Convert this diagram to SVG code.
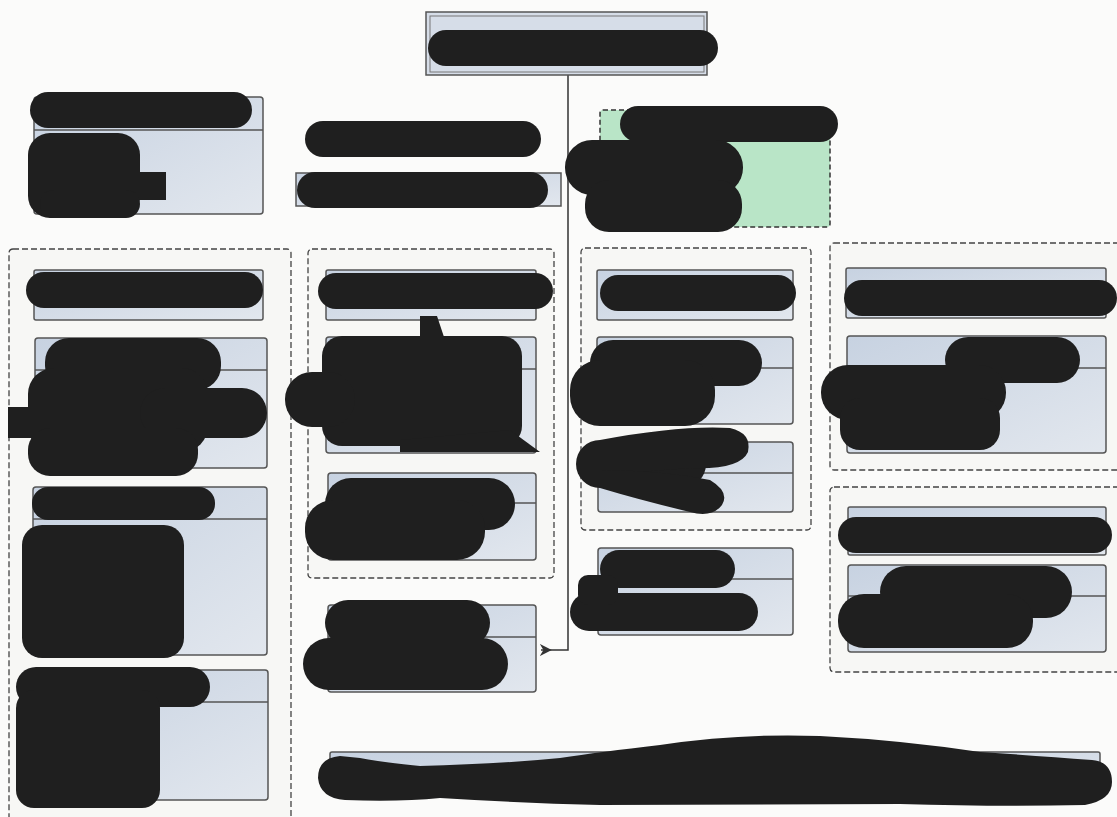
<svg xmlns="http://www.w3.org/2000/svg" width="1117" height="817" viewBox="0 0 1117 817">
<defs>
<linearGradient id="bg" x1="0" y1="0" x2="1" y2="1">
<stop offset="0" stop-color="#c7d2e1"/>
<stop offset="1" stop-color="#e2e7ee"/>
</linearGradient>
<marker id="arr" viewBox="0 0 10 10" refX="9" refY="5" markerWidth="8" markerHeight="8" orient="auto">
<path d="M10,0 L0,5 L10,10 L7,5 Z" fill="#333"/>
</marker>
<style>
.box{fill:url(#bg);stroke:#555;stroke-width:1.5}
.hl{stroke:#555;stroke-width:1.3}
.grp{fill:#f7f7f5;stroke:#444;stroke-width:1.3;stroke-dasharray:6 3}
.red{fill:#1f1f1f}
.conn{fill:none;stroke:#333;stroke-width:1.5}
</style>
</defs>
<rect width="1117" height="817" fill="#fbfbfa"/>

<g id="groups">
<rect class="grp" x="9" y="249" width="282" height="575" rx="4"/>
<rect class="grp" x="308" y="249" width="246" height="329" rx="4"/>
<rect class="grp" x="581" y="248" width="230" height="282" rx="4"/>
<rect class="grp" x="830" y="243" width="295" height="227" rx="4"/>
<rect class="grp" x="830" y="487" width="295" height="185" rx="4"/>
</g>

<g id="connectors">
<path class="conn" d="M568,75 V650 H541" marker-end="url(#arr)"/>
</g>

<g id="top">
<rect x="426" y="12" width="281" height="63" fill="#d6dde8" stroke="#555" stroke-width="1.5"/>
<rect x="430" y="16" width="274" height="56" fill="none" stroke="#777" stroke-width="1"/>
<rect class="red" x="428" y="30" width="290" height="36" rx="18"/>
</g>

<g id="nodeA">
<rect class="box" x="34" y="97" width="229" height="117" rx="3"/>
<line class="hl" x1="34" y1="130" x2="263" y2="130"/>
<rect class="red" x="30" y="92" width="222" height="36" rx="18"/>
<rect class="red" x="28" y="133" width="112" height="85" rx="22"/>
<rect class="red" x="100" y="172" width="66" height="28"/>
<rect class="red" x="40" y="190" width="100" height="28" rx="14"/>
</g>

<g id="nodeB">
<rect class="red" x="305" y="121" width="236" height="36" rx="18"/>
</g>

<g id="nodeC">
<rect class="box" x="296" y="173" width="265" height="33"/>
<rect class="red" x="297" y="172" width="251" height="36" rx="18"/>
</g>

<g id="nodeGreen">
<rect x="600" y="110" width="230" height="117" rx="3" fill="#b9e5c7" stroke="#333" stroke-width="1.5" stroke-dasharray="5 3"/>
<rect class="red" x="620" y="106" width="218" height="36" rx="18"/>
<rect class="red" x="565" y="140" width="178" height="55" rx="27"/>
<rect class="red" x="585" y="180" width="157" height="52" rx="24"/>
</g>

<g id="nodeL1">
<rect class="box" x="34" y="270" width="229" height="50" rx="2"/>
<rect class="red" x="26" y="272" width="237" height="36" rx="18"/>
</g>

<g id="nodeL2">
<rect class="box" x="35" y="338" width="232" height="130" rx="3"/>
<line class="hl" x1="35" y1="370" x2="267" y2="370"/>
<rect class="red" x="45" y="338" width="176" height="52" rx="24"/>
<rect class="red" x="28" y="368" width="180" height="84" rx="26"/>
<rect class="red" x="140" y="388" width="127" height="50" rx="25"/>
<rect class="red" x="28" y="428" width="170" height="48" rx="22"/>
<rect class="red" x="8" y="407" width="30" height="31"/>
</g>

<g id="nodeL3">
<rect class="box" x="33" y="487" width="234" height="168" rx="3"/>
<line class="hl" x1="33" y1="519" x2="267" y2="519"/>
<rect class="red" x="32" y="487" width="183" height="33" rx="16"/>
<rect class="red" x="22" y="525" width="162" height="133" rx="20"/>
</g>

<g id="nodeL4">
<rect class="box" x="33" y="670" width="235" height="130" rx="3"/>
<line class="hl" x1="160" y1="702" x2="268" y2="702"/>
<rect class="red" x="16" y="667" width="194" height="40" rx="20"/>
<rect class="red" x="16" y="690" width="144" height="118" rx="18"/>
</g>

<g id="nodeM1">
<rect class="box" x="326" y="270" width="210" height="50" rx="2"/>
<rect class="red" x="318" y="273" width="235" height="36" rx="18"/>
</g>

<g id="nodeM2">
<rect class="box" x="326" y="337" width="210" height="116" rx="3"/>
<line class="hl" x1="326" y1="369" x2="536" y2="369"/>
<rect class="red" x="322" y="336" width="200" height="110" rx="20"/>
<rect class="red" x="285" y="372" width="70" height="55" rx="27"/>
<path class="red" d="M420,316 H437 L445,340 H420 Z"/>
<path class="red" d="M400,440 L510,430 L540,452 L400,452 Z"/>
</g>

<g id="nodeM3">
<rect class="box" x="328" y="473" width="208" height="87" rx="3"/>
<line class="hl" x1="328" y1="503" x2="536" y2="503"/>
<rect class="red" x="325" y="478" width="190" height="52" rx="26"/>
<rect class="red" x="305" y="500" width="180" height="60" rx="28"/>
</g>

<g id="nodeM4">
<rect class="box" x="328" y="605" width="208" height="87" rx="3"/>
<line class="hl" x1="328" y1="637" x2="536" y2="637"/>
<rect class="red" x="325" y="600" width="165" height="46" rx="23"/>
<rect class="red" x="303" y="638" width="205" height="52" rx="26"/>
</g>

<g id="nodeR1">
<rect class="box" x="597" y="270" width="196" height="50" rx="2"/>
<rect class="red" x="600" y="275" width="196" height="36" rx="18"/>
</g>

<g id="nodeR2">
<rect class="box" x="597" y="337" width="196" height="87" rx="3"/>
<line class="hl" x1="597" y1="368" x2="793" y2="368"/>
<rect class="red" x="590" y="340" width="172" height="46" rx="23"/>
<rect class="red" x="570" y="360" width="145" height="66" rx="30"/>
</g>

<g id="nodeR3">
<rect class="box" x="598" y="442" width="195" height="70" rx="3"/>
<line class="hl" x1="598" y1="473" x2="793" y2="473"/>
<rect class="red" x="576" y="440" width="130" height="48" rx="24"/>
<path class="red" d="M600,440 Q680,425 730,428 Q752,433 748,452 Q740,470 690,468 L600,475 Z"/>
<path class="red" d="M600,470 Q660,470 710,480 Q730,492 722,505 Q712,518 690,512 Q640,500 600,488 Z"/>
</g>

<g id="nodeR4">
<rect class="box" x="598" y="548" width="195" height="87" rx="3"/>
<line class="hl" x1="598" y1="579" x2="793" y2="579"/>
<rect class="red" x="600" y="550" width="135" height="38" rx="19"/>
<rect class="red" x="570" y="593" width="188" height="38" rx="19"/>
<rect class="red" x="578" y="575" width="40" height="30" rx="10"/>
</g>

<g id="nodeG4a">
<rect class="box" x="846" y="268" width="260" height="50" rx="2"/>
<rect class="red" x="844" y="280" width="273" height="36" rx="18"/>
</g>

<g id="nodeG4b">
<rect class="box" x="847" y="336" width="259" height="117" rx="3"/>
<line class="hl" x1="847" y1="368" x2="1106" y2="368"/>
<rect class="red" x="945" y="337" width="135" height="46" rx="23"/>
<rect class="red" x="821" y="365" width="185" height="55" rx="27"/>
<rect class="red" x="840" y="398" width="160" height="52" rx="20"/>
</g>

<g id="nodeG5a">
<rect class="box" x="848" y="507" width="258" height="48" rx="2"/>
<rect class="red" x="838" y="517" width="274" height="36" rx="18"/>
</g>

<g id="nodeG5b">
<rect class="box" x="848" y="565" width="258" height="87" rx="3"/>
<line class="hl" x1="848" y1="596" x2="1106" y2="596"/>
<rect class="red" x="880" y="566" width="192" height="52" rx="26"/>
<rect class="red" x="838" y="594" width="195" height="54" rx="26"/>
</g>

<g id="nodeBottom">
<rect class="box" x="330" y="752" width="770" height="43" rx="2"/>
<path class="red" d="M340,756 Q318,758 318,778 Q320,798 345,800 Q400,802 440,798 Q520,803 600,805 L900,804 Q1000,807 1085,805 Q1112,800 1112,782 Q1112,762 1092,760 Q1040,756 980,752 Q900,740 820,736 Q740,733 660,745 Q600,752 560,758 Q500,764 420,766 Q380,762 360,758 Z"/>
</g>
</svg>
